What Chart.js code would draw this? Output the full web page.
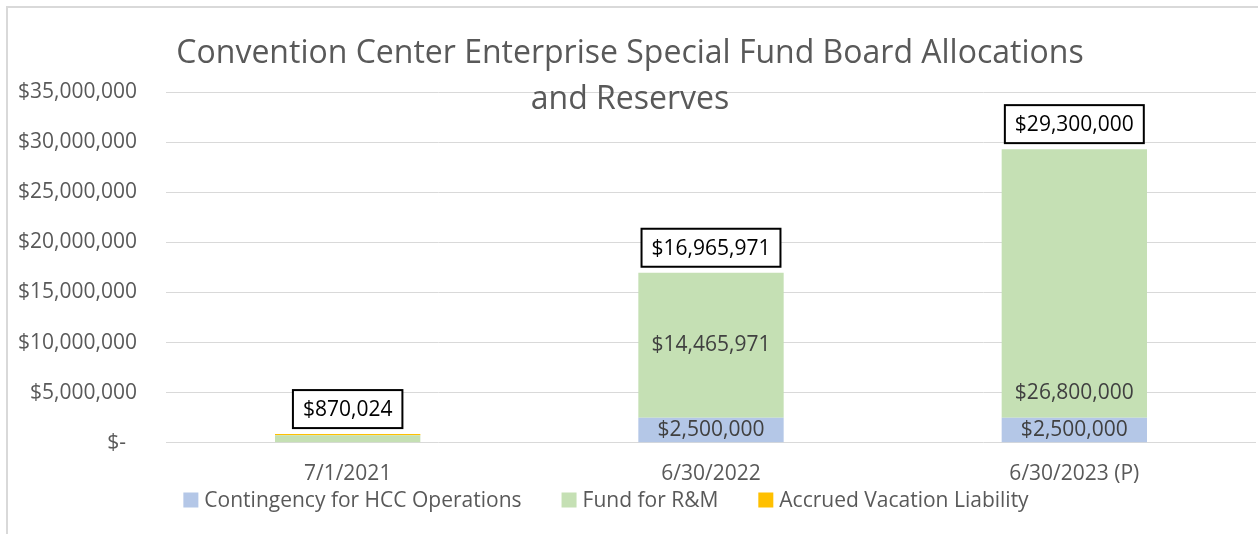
<!DOCTYPE html>
<html>
<head>
<meta charset="utf-8">
<script src="https://cdn.jsdelivr.net/npm/chart.js@4.4.0/dist/chart.umd.min.js"></script>
<style>
  html, body { margin: 0; padding: 0; background: #fff; }
  #wrap { width: 1258px; height: 534px; }
</style>
</head>
<body>
<div id="wrap"><canvas id="myChart" width="1258" height="534"></canvas></div>
<script>
'use strict';

// data
var categories = ['7/1/2021', '6/30/2022', '6/30/2023 (P)'];
var contingency = [0, 2500000, 2500000];
var fundRM = [745024, 14465971, 26800000];
var vacation = [125000, 0, 0];
var yMax = 35000000;
var yStep = 5000000;

// where the value labels sit inside each segment ('' = no label)
var contingencyLabelPos = ['', 'center', 'center'];
var fundLabelPos = ['', 'center', 'base'];
var vacationLabelPos = ['', '', ''];

var titleLines = ['Convention Center Enterprise Special Fund Board Allocations', 'and Reserves'];

var FONT = '"Open Sans", sans-serif';

function money(v) {
  return '$' + Math.round(v).toLocaleString('en-US');
}

// light grey frame round the chart (left and top edges are visible)
var chartFrame = {
  id: 'chartFrame',
  beforeDraw: function (chart) {
    var c = chart.ctx;
    c.save();
    c.fillStyle = '#ffffff';
    c.fillRect(0, 0, chart.width, chart.height);
    c.strokeStyle = '#d9d9d9';
    c.lineWidth = 2;
    c.beginPath();
    c.moveTo(7, chart.height);
    c.lineTo(7, 7);
    c.lineTo(chart.width, 7);
    c.stroke();
    c.restore();
  }
};

// title overlaps the plot like the Excel original
var overlayTitle = {
  id: 'overlayTitle',
  afterDraw: function (chart) {
    var c = chart.ctx;
    c.save();
    c.font = '32px ' + FONT;
    c.fillStyle = '#595959';
    c.textAlign = 'center';
    c.textBaseline = 'middle';
    c.fillText(titleLines[0], 630, 54);
    c.fillText(titleLines[1], 630, 100);
    c.restore();
  }
};

// legend with wide gaps between entries
var wideLegend = {
  id: 'wideLegend',
  afterDraw: function (chart) {
    var c = chart.ctx;
    var sets = chart.data.datasets;
    var box = 15, gap = 6, spacing = 40;
    c.save();
    c.font = '21px ' + FONT;
    var widths = sets.map(function (ds) { return c.measureText(ds.label).width; });
    var total = widths.reduce(function (a, w) { return a + box + gap + w; }, 0) + spacing * (sets.length - 1);
    var x = 606 - total / 2;
    var y = 500;
    c.textBaseline = 'middle';
    c.textAlign = 'left';
    sets.forEach(function (ds, i) {
      c.fillStyle = ds.backgroundColor;
      c.fillRect(x, y - box / 2, box, box);
      c.fillStyle = '#595959';
      c.fillText(ds.label, x + box + gap, y + 1);
      x += box + gap + widths[i] + spacing;
    });
    c.restore();
  }
};

// value labels inside segments and boxed totals on top
var barLabels = {
  id: 'barLabels',
  afterDatasetsDraw: function (chart) {
    var c = chart.ctx;
    var sets = chart.data.datasets;
    c.save();
    c.font = '21px ' + FONT;
    c.textAlign = 'center';
    c.textBaseline = 'middle';

    sets.forEach(function (ds, di) {
      var meta = chart.getDatasetMeta(di);
      meta.data.forEach(function (bar, j) {
        var pos = ds.labelPos[j];
        if (!pos) return;
        var ty = pos === 'base' ? bar.base - 25 : (bar.y + bar.base) / 2;
        c.fillStyle = '#404040';
        c.fillText(money(ds.data[j]), bar.x, ty);
      });
    });

    var yScale = chart.scales.y;
    categories.forEach(function (cat, j) {
      var sum = 0;
      sets.forEach(function (ds) { sum += ds.data[j]; });
      var bar = chart.getDatasetMeta(0).data[j];
      var top = yScale.getPixelForValue(sum);
      var text = money(sum);
      var w = c.measureText(text).width + 20;
      var h = 38;
      var bx = bar.x - w / 2;
      var by = top - 6 - h;
      c.fillStyle = '#ffffff';
      c.fillRect(bx, by, w, h);
      c.strokeStyle = '#000000';
      c.lineWidth = 2;
      c.strokeRect(bx, by, w, h);
      c.fillStyle = '#000000';
      c.fillText(text, bar.x, by + h / 2 + 1);
    });
    c.restore();
  }
};

var ctx = document.getElementById('myChart').getContext('2d');
var chart = new Chart(ctx, {
  type: 'bar',
  data: {
    labels: categories,
    datasets: [
      {
        label: 'Contingency for HCC Operations',
        data: contingency,
        backgroundColor: '#b4c7e7',
        labelPos: contingencyLabelPos
      },
      {
        label: 'Fund for R&M',
        data: fundRM,
        backgroundColor: '#c5e0b4',
        labelPos: fundLabelPos
      },
      {
        label: 'Accrued Vacation Liability',
        data: vacation,
        backgroundColor: '#ffc000',
        labelPos: vacationLabelPos
      }
    ]
  },
  options: {
    responsive: false,
    animation: false,
    devicePixelRatio: 1,
    categoryPercentage: 0.8,
    barPercentage: 0.5,
    layout: {
      padding: { left: 16, right: 2, top: 92, bottom: 28 }
    },
    plugins: {
      legend: { display: false },
      title: { display: false },
      tooltip: { enabled: false }
    },
    scales: {
      x: {
        stacked: true,
        grid: { display: false, drawTicks: false },
        border: { display: false },
        ticks: {
          color: '#595959',
          padding: 19,
          font: { family: FONT, size: 21 }
        }
      },
      y: {
        stacked: true,
        min: 0,
        max: yMax,
        grid: { color: '#d9d9d9', lineWidth: 1, drawTicks: false },
        border: { display: false },
        afterFit: function (scale) { scale.width = 150; },
        ticks: {
          stepSize: yStep,
          color: '#595959',
          padding: 29,
          font: { family: FONT, size: 21 },
          callback: function (v) { return v === 0 ? '$-  ' : money(v); }
        }
      }
    }
  },
  plugins: [chartFrame, barLabels, overlayTitle, wideLegend]
});
</script>
</body>
</html>
